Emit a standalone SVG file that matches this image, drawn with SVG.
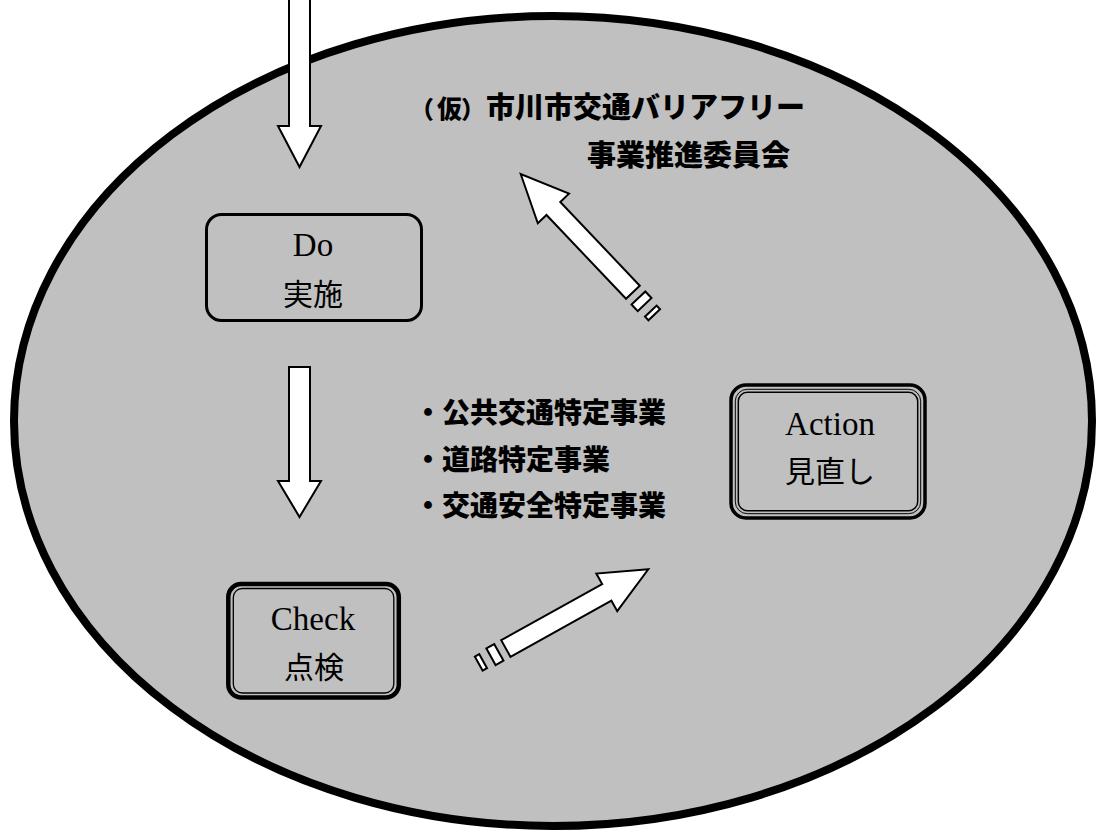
<svg xmlns="http://www.w3.org/2000/svg" width="1096" height="832" viewBox="0 0 1096 832">
<style>
.bg{fill:#c0c0c0;stroke:#000;stroke-width:8}
.arr{fill:#fff;stroke:#000;stroke-width:2;stroke-linejoin:miter}
.box{fill:none;stroke:#000}
.lat{font-family:"Liberation Serif","Times New Roman",serif;font-size:33px;fill:#000;text-anchor:middle}
.jp{font-family:"Noto Sans CJK JP","Noto Sans CJK SC",sans-serif;font-size:30px;fill:#000;text-anchor:middle}
.bold{font-family:"Noto Sans CJK JP","Noto Sans CJK SC",sans-serif;font-weight:900;fill:#000}
</style>
<defs>
<g id="diag">
<path class="arr" d="M0,0 L-47.5,-21.5 L-47.5,-9.5 L-163,-9.5 L-163,9.5 L-47.5,9.5 L-47.5,21.5 Z"/>
<rect class="arr" x="-180" y="-9.5" width="9" height="19"/>
<rect class="arr" x="-194" y="-8" width="5" height="16"/>
</g>
</defs>
<ellipse class="bg" cx="553" cy="421" rx="539" ry="405"/>
<g id="connectors">
<path class="arr" d="M289,-5 V126 H278 L299.5,167 L321,126 H310 V-5 Z"/>
<path class="arr" d="M289,367 H310 V481 H321 L299.5,517 L278,481 H289 Z"/>
<use href="#diag" transform="translate(520.7,174) rotate(-133.5)"/>
<use href="#diag" transform="translate(648.3,569.3) rotate(-29.07)"/>
</g>
<g id="title">
<text class="bold" y="118"><tspan x="410" font-size="24">（</tspan><tspan x="437" font-size="25">仮</tspan><tspan x="461" font-size="24">）</tspan><tspan x="486" font-size="29">市川市交通バリアフリー</tspan></text>
<text class="bold" x="587" y="166" font-size="29">事業推進委員会</text>
</g>
<g id="projects">
<text class="bold" x="414" y="423" font-size="28">・公共交通特定事業</text>
<text class="bold" x="414" y="470" font-size="28">・道路特定事業</text>
<text class="bold" x="414" y="516" font-size="28">・交通安全特定事業</text>
</g>
<g id="do">
<rect class="box" x="206.5" y="214.5" width="215" height="106" rx="15" stroke-width="3"/>
<text class="lat" x="313" y="256">Do</text>
<text class="jp" x="313" y="305">実施</text>
</g>
<g id="check">
<rect class="box" x="228.3" y="584" width="170.5" height="113.5" rx="13" stroke-width="4.5"/>
<rect class="box" x="233.3" y="588.5" width="160.5" height="104.5" rx="9" stroke-width="1.3"/>
<text class="lat" x="313" y="630">Check</text>
<text class="jp" x="314" y="678">点検</text>
</g>
<g id="action">
<rect class="box" x="731" y="385" width="194" height="133" rx="15" stroke-width="3.5"/>
<rect class="box" x="735.3" y="389.3" width="185.4" height="124.4" rx="12" stroke-width="1"/>
<rect class="box" x="738.3" y="392.3" width="179.4" height="118.4" rx="9" stroke-width="1.5"/>
<text class="lat" x="830" y="435">Action</text>
<text class="jp" x="830" y="482">見直し</text>
</g>
</svg>
